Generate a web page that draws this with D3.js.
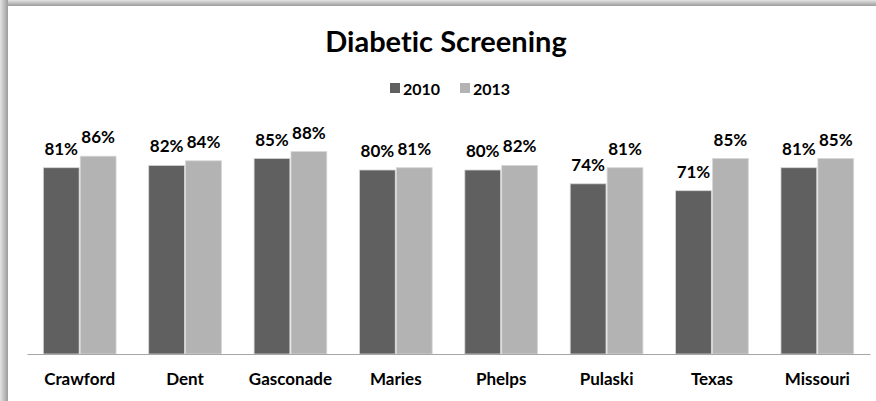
<!DOCTYPE html>
<html>
<head>
<meta charset="utf-8">
<script src="https://cdn.jsdelivr.net/npm/d3@7"></script>
<style>
  body { margin: 0; background: #fff; }
  text { font-family: Lato, "Open Sans", sans-serif; font-weight: bold; fill: #000; font-variant-ligatures: none; }
</style>
</head>
<body>
<svg class="chart" width="876" height="401"></svg>
<script>
const counties = ["Crawford", "Dent", "Gasconade", "Maries", "Phelps", "Pulaski", "Texas", "Missouri"];
const years = ["2010", "2013"];
const screening2010 = [0.81, 0.82, 0.85, 0.80, 0.80, 0.74, 0.71, 0.81];
const screening2013 = [0.86, 0.84, 0.88, 0.81, 0.82, 0.81, 0.85, 0.85];

const colors = { "2010": "#606060", "2013": "#b3b3b3" };

const svg = d3.select("svg.chart");
const width = 876;
const height = 401;

// frame shadow on top and left
const defs = svg.append("defs");
const gl = defs.append("linearGradient").attr("id", "shadeLeft");
gl.append("stop").attr("offset", "0%").attr("stop-color", "#e4e4e4");
gl.append("stop").attr("offset", "100%").attr("stop-color", "#9c9c9c");
const gt = defs.append("linearGradient").attr("id", "shadeTop")
  .attr("x1", 0).attr("y1", 0).attr("x2", 0).attr("y2", 1);
gt.append("stop").attr("offset", "0%").attr("stop-color", "#e4e4e4");
gt.append("stop").attr("offset", "100%").attr("stop-color", "#9c9c9c");

svg.append("rect").attr("x", 0).attr("y", 0).attr("width", width).attr("height", 6)
  .attr("fill", "url(#shadeTop)");
svg.append("rect").attr("x", 0).attr("y", 0).attr("width", 8).attr("height", height)
  .attr("fill", "url(#shadeLeft)");

const x0 = d3.scaleBand()
  .domain(counties)
  .range([27, 870])
  .paddingInner(0.31)
  .paddingOuter(0.155);

const x1 = d3.scaleBand()
  .domain(years)
  .range([0, x0.bandwidth()])
  .paddingInner(0.03);

const y = d3.scaleLinear()
  .domain([0, 1])
  .range([354, 124]);

const rows = counties.map((c, i) => ({
  county: c,
  values: [
    { year: "2010", value: screening2010[i] },
    { year: "2013", value: screening2013[i] }
  ]
}));

const groups = svg.selectAll("g.county")
  .data(rows)
  .enter()
  .append("g")
  .attr("class", "county")
  .attr("transform", d => `translate(${x0(d.county)},0)`);

groups.selectAll("rect")
  .data(d => d.values)
  .enter()
  .append("rect")
  .attr("x", d => x1(d.year))
  .attr("y", d => y(d.value))
  .attr("width", x1.bandwidth())
  .attr("height", d => y(0) - y(d.value))
  .attr("fill", d => colors[d.year])
  .attr("stroke", "#d6d6d6")
  .attr("stroke-width", 0.8);

groups.selectAll("text.val")
  .data(d => d.values)
  .enter()
  .append("text")
  .attr("class", "val")
  .attr("x", d => x1(d.year) + x1.bandwidth() / 2)
  .attr("y", d => y(d.value) - 13)
  .attr("text-anchor", "middle")
  .attr("font-size", 17)
  .attr("font-weight", 900)
  .text(d => Math.round(d.value * 100) + "%");

// category axis
const xAxis = svg.append("g")
  .attr("transform", `translate(0,${y(0)})`)
  .call(d3.axisBottom(x0).tickSize(0).tickPadding(19));
xAxis.select(".domain").attr("stroke", "#a6a6a6").attr("stroke-width", 1.2);
xAxis.selectAll("text")
  .attr("font-size", 17)
  .attr("font-family", "Lato, sans-serif")
  .attr("font-weight", 900)
  .attr("fill", "#000");

// title
svg.append("text")
  .attr("x", 446)
  .attr("y", 52)
  .attr("text-anchor", "middle")
  .attr("font-size", 29)
  .attr("font-weight", 900)
  .text("Diabetic Screening");

// legend
const legend = svg.append("g").attr("class", "legend");
const legendX = [390, 460];
years.forEach((yr, i) => {
  legend.append("rect")
    .attr("x", legendX[i])
    .attr("y", 83)
    .attr("width", 10)
    .attr("height", 10)
    .attr("fill", colors[yr]);
  legend.append("text")
    .attr("x", legendX[i] + 13)
    .attr("y", 94.5)
    .attr("font-size", 16)
    .text(yr);
});
</script>
</body>
</html>
